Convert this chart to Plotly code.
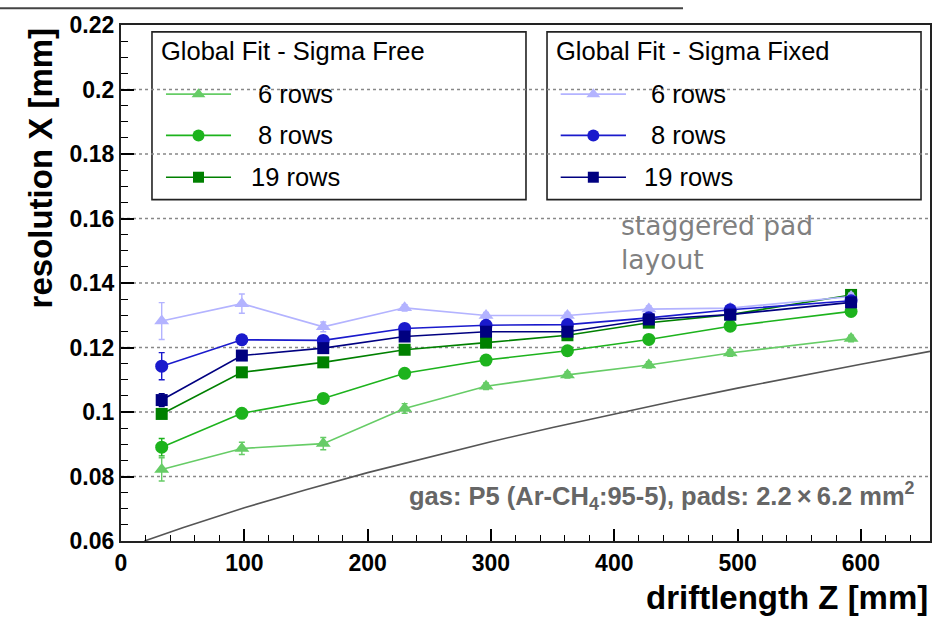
import plotly.graph_objects as go

# ---------------- data ----------------
z = [33, 98, 164, 230, 296, 362, 428, 494, 592]

free_6 = [0.0822, 0.0887, 0.0902, 0.1011, 0.1080, 0.1115, 0.1146, 0.1183, 0.1228]
free_6_err = [0.0036, 0.0019, 0.0019, 0.0015, 0.0010, 0.0010, 0.0010, 0.0010, 0.0010]
free_8 = [0.0891, 0.0996, 0.1042, 0.1120, 0.1161, 0.1190, 0.1225, 0.1266, 0.1312]
free_8_err = [0.0027, 0.0012, 0.0010, 0.0010, 0.0010, 0.0010, 0.0010, 0.0010, 0.0010]
free_19 = [0.0994, 0.1123, 0.1154, 0.1193, 0.1215, 0.1238, 0.1277, 0.1302, 0.1363]
free_19_err = [0.0010, 0.0010, 0.0010, 0.0010, 0.0010, 0.0010, 0.0010, 0.0010, 0.0010]

fixed_6 = [0.1282, 0.1336, 0.1264, 0.1323, 0.1299, 0.1299, 0.1319, 0.1322, 0.1358]
fixed_6_err = [0.0057, 0.0030, 0.0015, 0.0010, 0.0010, 0.0010, 0.0010, 0.0010, 0.0010]
fixed_8 = [0.1142, 0.1224, 0.1222, 0.1259, 0.1269, 0.1271, 0.1292, 0.1317, 0.1345]
fixed_8_err = [0.0042, 0.0015, 0.0010, 0.0010, 0.0010, 0.0010, 0.0010, 0.0010, 0.0010]
fixed_19 = [0.1037, 0.1175, 0.1198, 0.1234, 0.1249, 0.1249, 0.1287, 0.1302, 0.1340]
fixed_19_err = [0.0020, 0.0010, 0.0010, 0.0010, 0.0010, 0.0010, 0.0010, 0.0010, 0.0010]

# reference curve
ref_z = [19, 50, 100, 150, 200, 250, 300, 350, 400, 450, 500, 550, 600, 656]
ref_sigma = [0.0600, 0.0641, 0.0703, 0.0759, 0.0812, 0.0861, 0.0908, 0.0952,
             0.0994, 0.1035, 0.1074, 0.1112, 0.1148, 0.1188]

x_ticks = [0, 100, 200, 300, 400, 500, 600]
y_ticks = [0.06, 0.08, 0.1, 0.12, 0.14, 0.16, 0.18, 0.2, 0.22]

legend_titles = ["Global Fit - Sigma Free", "Global Fit - Sigma Fixed"]
row_labels = ["6 rows", "8 rows", "19 rows"]

# ---------------- styles ----------------
C_F6, C_F8, C_F19 = "#66cc66", "#1db31d", "#008000"
C_X6, C_X8, C_X19 = "#b3b3ff", "#1a1acc", "#000080"

SANS = "Liberation Sans, Arial, sans-serif"

series = [
    (free_6, free_6_err, C_F6, "triangle-up", 13),
    (free_8, free_8_err, C_F8, "circle", 13),
    (free_19, free_19_err, C_F19, "square", 12),
    (fixed_6, fixed_6_err, C_X6, "triangle-up", 13),
    (fixed_8, fixed_8_err, C_X8, "circle", 13),
    (fixed_19, fixed_19_err, C_X19, "square", 12),
]

fig = go.Figure()

fig.add_trace(go.Scatter(x=ref_z, y=ref_sigma, mode="lines",
                         line=dict(color="#555555", width=1.6),
                         showlegend=False, hoverinfo="skip"))

for vals, errs, col, sym, size in series:
    fig.add_trace(go.Scatter(
        x=z, y=vals, mode="lines+markers",
        line=dict(color=col, width=1.6),
        marker=dict(symbol=sym, size=size, color=col, line=dict(width=0)),
        error_y=dict(type="data", array=errs, color=col, thickness=1.4, width=3),
        showlegend=False))

# ---------------- hand-drawn legend boxes (overlay axis 0..1) ----------------
box_x = [(0.0383, 0.5006), (0.5266, 0.9889)]
box_y = (0.6615, 0.9866)
entry_y = [0.866, 0.786, 0.705]
title_y = 0.950
sample_x = [(0.0556, 0.1360), (0.5435, 0.6242)]
label_cx = [0.216, 0.701]
title_x = [0.0475, 0.5355]
groups = [series[0:3], series[3:6]]

shapes = []
annotations = []
for gi in range(2):
    x0, x1 = box_x[gi]
    shapes.append(dict(type="rect", xref="paper", yref="paper",
                       x0=x0, x1=x1, y0=box_y[0], y1=box_y[1],
                       line=dict(color="#222222", width=1.6),
                       fillcolor="white", layer="below"))
    annotations.append(dict(xref="paper", yref="paper", x=title_x[gi], y=title_y,
                            xanchor="left", yanchor="middle", showarrow=False,
                            text=legend_titles[gi],
                            font=dict(family=SANS, size=25.5, color="black")))
    for ei, (vals, errs, col, sym, size) in enumerate(groups[gi]):
        sx0, sx1 = sample_x[gi]
        fig.add_trace(go.Scatter(
            x=[sx0, sx1], y=[entry_y[ei]] * 2,
            xaxis="x2", yaxis="y2", mode="lines",
            line=dict(color=col, width=1.6),
            showlegend=False, hoverinfo="skip"))
        fig.add_trace(go.Scatter(
            x=[(sx0 + sx1) / 2], y=[entry_y[ei]],
            xaxis="x2", yaxis="y2", mode="markers",
            marker=dict(symbol=sym, size=size - 1, color=col, line=dict(width=0)),
            showlegend=False, hoverinfo="skip"))
        annotations.append(dict(xref="paper", yref="paper", x=label_cx[gi], y=entry_y[ei],
                                xanchor="center", yanchor="middle", showarrow=False,
                                text=row_labels[ei],
                                font=dict(family=SANS, size=25.5, color="black")))

# horizontal dotted grid lines drawn as shapes (below data)
for yv in y_ticks[1:-1]:
    shapes.append(dict(type="line", xref="paper", yref="y", x0=0, x1=1, y0=yv, y1=yv,
                       line=dict(color="#888888", width=1.5, dash="dot"), layer="below"))

# stray line at top of the picture
shapes.append(dict(type="line", xref="paper", yref="paper", x0=-0.1496, x1=0.6947,
                   y0=1.0326, y1=1.0326, line=dict(color="#444444", width=2)))

annotations += [
    dict(xref="paper", yref="paper", x=0.6156, y=0.645, xanchor="left", yanchor="top",
         showarrow=False, align="left", text="staggered pad<br>layout",
         font=dict(family="DejaVu Sans", size=26.5, color="#808080")),
    dict(xref="paper", yref="paper", x=0.984, y=0.088, xanchor="right", yanchor="middle",
         showarrow=False,
         text="gas: P5 (Ar-CH<sub>4</sub>:95-5), pads: 2.2\u2009\u00d7\u20096.2 mm<sup>2</sup>",
         font=dict(family=SANS, size=25.5, color="#666666", weight="bold")),
    dict(xref="paper", yref="paper", x=1.0, y=-0.109, xanchor="right", yanchor="middle",
         showarrow=False, text="driftlength Z [mm]",
         font=dict(family=SANS, size=33, color="black", weight="bold")),
    dict(xref="paper", yref="paper", x=-0.099, y=1.0, xanchor="center", yanchor="top",
         showarrow=False, textangle=-90, text="resolution X [mm]",
         font=dict(family=SANS, size=33, color="black", weight="bold")),
]

fig.update_layout(
    width=948, height=618,
    margin=dict(l=121, r=18, t=19, b=77),
    paper_bgcolor="white", plot_bgcolor="white",
    showlegend=False,
    shapes=shapes, annotations=annotations,
    xaxis=dict(range=[0, 656], tickvals=x_ticks, ticks="inside", ticklen=12,
               tickwidth=1.5, tickcolor="black",
               minor=dict(dtick=20, ticks="inside", ticklen=6, tickwidth=1.2, tickcolor="black", showgrid=False),
               showgrid=False, zeroline=False,
               showline=True, linecolor="#222222", linewidth=2.2, mirror=True,
               tickfont=dict(family=SANS, size=23, color="black", weight="bold"), ticklabelstandoff=0),
    yaxis=dict(range=[0.06, 0.22], tickvals=y_ticks, ticks="inside", ticklen=13,
               tickwidth=1.5, tickcolor="black",
               minor=dict(dtick=0.005, ticks="inside", ticklen=7, tickwidth=1.2, tickcolor="black", showgrid=False),
               showgrid=False, zeroline=False,
               showline=True, linecolor="#222222", linewidth=2.2, mirror=True,
               tickfont=dict(family=SANS, size=23, color="black", weight="bold")),
    xaxis2=dict(overlaying="x", range=[0, 1], visible=False, fixedrange=True),
    yaxis2=dict(overlaying="y", range=[0, 1], visible=False, fixedrange=True),
)

fig.write_html("out.html")
